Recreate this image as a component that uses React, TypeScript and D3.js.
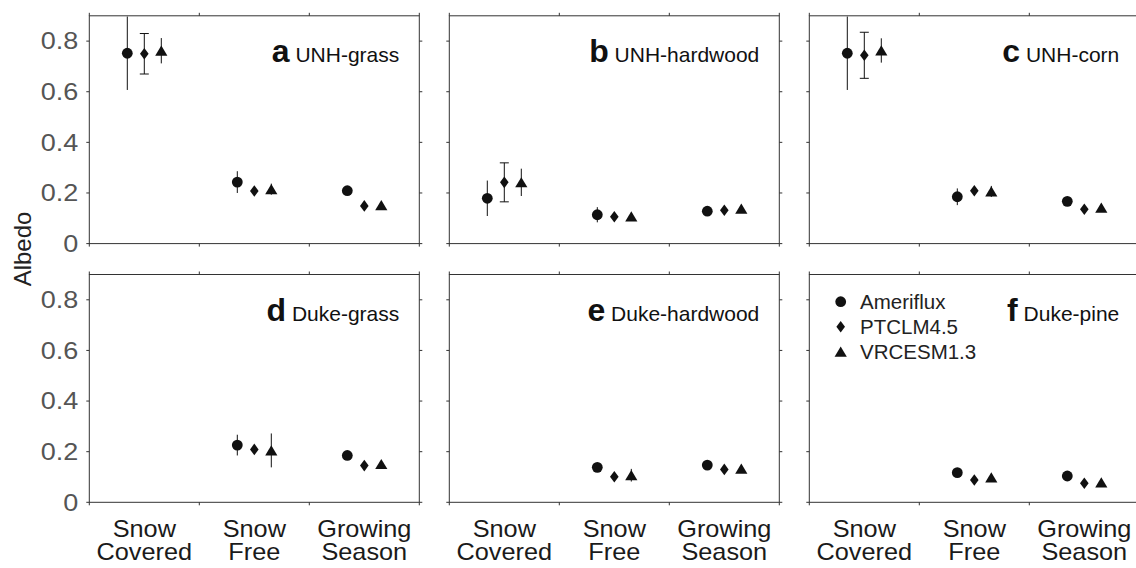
import React from "react";
import * as d3 from "d3";

const categories = ["Snow Covered", "Snow Free", "Growing Season"];
const categoryLines = [["Snow", "Covered"], ["Snow", "Free"], ["Growing", "Season"]];
const seriesNames = ["Ameriflux", "PTCLM4.5", "VRCESM1.3"];
const panelLetters = ["a", "b", "c", "d", "e", "f"];
const panelSites = ["UNH-grass", "UNH-hardwood", "UNH-corn", "Duke-grass", "Duke-hardwood", "Duke-pine"];
const yTickValues = [0, 0.2, 0.4, 0.6, 0.8];
const yTickLabels = ["0", "0.2", "0.4", "0.6", "0.8"];

// per panel: [Snow Covered, Snow Free, Growing Season]
const amerifluxMean = [
  [0.752, 0.243, 0.209],
  [0.179, 0.114, 0.128],
  [0.752, 0.185, 0.167],
  [null, 0.226, 0.185],
  [null, 0.138, 0.147],
  [null, 0.117, 0.104],
];
const amerifluxErr = [
  [0.145, 0.043, 0.01],
  [0.07, 0.03, 0.01],
  [0.145, 0.033, 0.01],
  [null, 0.041, 0.01],
  [null, 0.012, 0.01],
  [null, 0.01, 0.008],
];
const ptclmMean = [
  [0.75, 0.208, 0.149],
  [0.242, 0.106, 0.132],
  [0.744, 0.209, 0.136],
  [null, 0.209, 0.145],
  [null, 0.101, 0.13],
  [null, 0.088, 0.075],
];
const ptclmErr = [
  [0.08, 0, 0],
  [0.077, 0, 0],
  [0.091, 0, 0],
  [null, 0, 0],
  [null, 0, 0],
  [null, 0, 0],
];
const vrcesmMean = [
  [0.762, 0.215, 0.152],
  [0.242, 0.107, 0.138],
  [0.763, 0.206, 0.142],
  [null, 0.205, 0.151],
  [null, 0.107, 0.133],
  [null, 0.098, 0.078],
];
const vrcesmErr = [
  [0.05, 0.022, 0.005],
  [0.054, 0.01, 0.005],
  [0.048, 0.022, 0.005],
  [null, 0.067, 0.005],
  [null, 0.025, 0.005],
  [null, 0.01, 0.005],
];

const W = 1136;
const H = 568;
const panelLefts = [89.3, 449.3, 809.3];
const panelWidth = 330;
const rowTops = [15.8, 274.5];
const panelHeight = 227.8;
const LINE = "#333";
const TICKTXT = "#555";
const FONT = "Liberation Sans, Arial, Helvetica, sans-serif";

const diamondType = {
  draw(ctx: any) {
    ctx.moveTo(0, -5.8);
    ctx.lineTo(4.3, 0);
    ctx.lineTo(0, 5.8);
    ctx.lineTo(-4.3, 0);
    ctx.closePath();
  },
};
const triangleType = {
  draw(ctx: any) {
    ctx.moveTo(0, -5.2);
    ctx.lineTo(6.1, 5);
    ctx.lineTo(-6.1, 5);
    ctx.closePath();
  },
};
const circleType = {
  draw(ctx: any) {
    ctx.moveTo(5.4, 0);
    ctx.arc(0, 0, 5.4, 0, Math.PI * 2);
  },
};
const symbolTypes = [circleType, diamondType, triangleType];
const symbolPaths = symbolTypes.map((t) => d3.symbol().type(t as any)() as string);
const capHalf = [0, 4.5, 0];

const means = [amerifluxMean, ptclmMean, vrcesmMean];
const errs = [amerifluxErr, ptclmErr, vrcesmErr];

function Panel({ idx }: { idx: number }) {
  const col = idx % 3;
  const row = Math.floor(idx / 3);
  const left = panelLefts[col];
  const top = rowTops[row];
  const x = d3.scaleBand<string>().domain(categories).range([left, left + panelWidth]).padding(0);
  const inner = d3
    .scalePoint<string>()
    .domain(seriesNames)
    .range([x.bandwidth() / 2 - 17, x.bandwidth() / 2 + 17]);
  const y = d3.scaleLinear().domain([0, 0.9]).range([top + panelHeight, top]);
  const bottom = y(0);
  const right = left + panelWidth;
  const boundaries = [...categories.map((c) => x(c) as number), right];
  const tl = 3;

  return (
    <g>
      <rect x={left} y={top} width={panelWidth} height={bottom - top} fill="none" stroke={LINE} strokeWidth={1} />
      {boundaries.map((bx, i) => (
        <g key={"xt" + i}>
          <line x1={bx} x2={bx} y1={bottom} y2={bottom + tl} stroke={LINE} />
          <line x1={bx} x2={bx} y1={top} y2={top - tl} stroke={LINE} />
        </g>
      ))}
      {yTickValues.map((v, i) => (
        <g key={"yt" + i}>
          <line x1={left - tl} x2={left} y1={y(v)} y2={y(v)} stroke={LINE} />
          <line x1={right} x2={right + tl} y1={y(v)} y2={y(v)} stroke={LINE} />
          {col === 0 && (
            <text
              transform={`translate(${left - 11},${y(v) + 8.3}) scale(1.15,1)`}
              textAnchor="end"
              fontSize={23.5}
              fontFamily={FONT}
              fill={TICKTXT}
            >
              {yTickLabels[i]}
            </text>
          )}
        </g>
      ))}
      {row === 1 &&
        categories.map((c, i) => (
          <g key={"xl" + i}>
            {categoryLines[i].map((ln, j) => (
              <text
                key={j}
                transform={`translate(${(x(c) as number) + x.bandwidth() / 2},${536.7 + j * 23.5}) scale(1.1,1)`}
                textAnchor="middle"
                fontSize={23}
                fontFamily={FONT}
                fill="#1a1a1a"
              >
                {ln}
              </text>
            ))}
          </g>
        ))}
      <text x={left + 310} y={top + 46} textAnchor="end" fontFamily={FONT} fill="#111">
        <tspan fontSize={32} fontWeight="bold">{panelLetters[idx]}</tspan>
        <tspan fontSize={21}> {panelSites[idx]}</tspan>
      </text>
      {seriesNames.map((s, si) =>
        categories.map((c, ci) => {
          const m = means[si][idx][ci];
          if (m === null || m === undefined) return null;
          const e = errs[si][idx][ci] || 0;
          const cx = (x(c) as number) + (inner(s) as number);
          const y1 = Math.max(y(m + e), top);
          const y2 = y(m - e);
          return (
            <g key={s + c}>
              {e > 0 && <line x1={cx} x2={cx} y1={y1} y2={y2} stroke="#111" strokeWidth={1} />}
              {e > 0 && capHalf[si] > 0 && (
                <g>
                  <line x1={cx - capHalf[si]} x2={cx + capHalf[si]} y1={y(m + e)} y2={y(m + e)} stroke="#111" />
                  <line x1={cx - capHalf[si]} x2={cx + capHalf[si]} y1={y2} y2={y2} stroke="#111" />
                </g>
              )}
              <path d={symbolPaths[si]} transform={`translate(${cx},${y(m)})`} fill="#111" />
            </g>
          );
        })
      )}
    </g>
  );
}

function Legend() {
  const ly = d3.scalePoint<string>().domain(seriesNames).range([301.7, 351.7]);
  return (
    <g>
      {seriesNames.map((s, i) => (
        <g key={s}>
          <path d={symbolPaths[i]} transform={`translate(840.7,${ly(s)})`} fill="#111" />
          <text x={860} y={(ly(s) as number) + 7.5} fontSize={20.5} fontFamily={FONT} fill="#222">
            {s}
          </text>
        </g>
      ))}
    </g>
  );
}

export default function App() {
  return (
    <svg
      width={W}
      height={H}
      viewBox={`0 0 ${W} ${H}`}
      style={{ position: "absolute", left: 0, top: 0, background: "#fff" }}
    >
      <rect x={0} y={0} width={W} height={H} fill="#fff" />
      {panelLetters.map((_, i) => (
        <Panel key={i} idx={i} />
      ))}
      <Legend />
      <text
        transform="translate(31,249) rotate(-90)"
        textAnchor="middle"
        fontSize={24}
        fontFamily={FONT}
        fill="#222"
      >
        Albedo
      </text>
    </svg>
  );
}
